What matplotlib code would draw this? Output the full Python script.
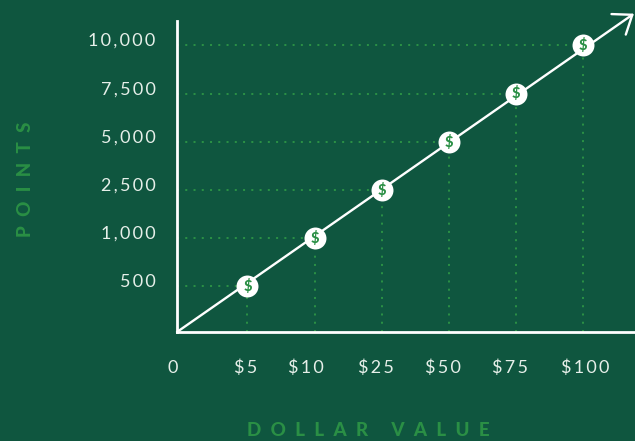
import matplotlib
matplotlib.use("Agg")
import matplotlib.pyplot as plt
from matplotlib.transforms import ScaledTranslation

plt.rcParams['font.family'] = ['Lato', 'DejaVu Sans']

dollar_labels = ['0', '$5', '$10', '$25', '$50', '$75', '$100']
point_labels = ['500', '1,000', '2,500', '5,000', '7,500', '10,000']
# the scale is even steps, not true values
x_steps = [1, 2, 3, 4, 5, 6]
y_steps = [1, 2, 3, 4, 5, 6]

bg = '#0f563f'
green = '#2a8f45'
white = '#ffffff'
label_col = '#e6efe9'


def spaced(s, gap):
    return gap.join(s)


fig = plt.figure(figsize=(6.35, 4.41), dpi=100, facecolor=bg)
ax = fig.add_axes([177 / 635, 109 / 441, 458 / 635, 311 / 441], facecolor=bg)

xmin, xmax = -0.05, 6.776
ymin, ymax = 0.056, 6.508
ax.set_xlim(xmin, xmax)
ax.set_ylim(ymin, ymax)

for s in ['top', 'right']:
    ax.spines[s].set_visible(False)
for s in ['left', 'bottom']:
    ax.spines[s].set_color(white)
    ax.spines[s].set_linewidth(2)

# dotted guides from the axes to each point
dots = (0, (1, 3.1))
for x, y in zip(x_steps, y_steps):
    ax.plot([xmin, x], [y, y], color=green, lw=1.45, ls=dots, zorder=1)
    ax.plot([x, x], [ymin, y], color=green, lw=1.45, ls=dots, zorder=1)

# main line with the arrow head
ax.annotate('', xy=(6.76, 6.66), xytext=(xmin, ymin), annotation_clip=False,
            arrowprops=dict(arrowstyle='->,head_length=1.0,head_width=0.75',
                            color=white, lw=1.7, mutation_scale=12,
                            shrinkA=0, shrinkB=0), zorder=2)

ax.scatter(x_steps, y_steps, s=250, color=white, zorder=3, linewidths=0)
for x, y in zip(x_steps, y_steps):
    ax.text(x, y - 0.005, '$', color=green, fontsize=10.5, fontweight='black',
            ha='center', va='center', zorder=4)

ax.set_xticks([0] + x_steps)
ax.set_xticklabels([spaced(t, '\u2009') for t in dollar_labels])
ax.set_yticks(y_steps)
ax.set_yticklabels([spaced(t, '\u2009') for t in point_labels])
ax.tick_params(axis='both', length=0, labelsize=13, labelcolor=label_col)
ax.tick_params(axis='x', pad=20)
ax.tick_params(axis='y', pad=15.5)

# labels sit a little off their marks
x_nudge = [-8, -2, -9, -6, -6, -6, 2]
for lab, dx in zip(ax.get_xticklabels(), x_nudge):
    lab.set_transform(lab.get_transform() + ScaledTranslation(dx / 100, 0, fig.dpi_scale_trans))
for lab in ax.get_yticklabels():
    lab.set_transform(lab.get_transform() + ScaledTranslation(0, 6 / 100, fig.dpi_scale_trans))

fig.text(368 / 635, 1 - 430 / 441, spaced('DOLLAR VALUE', '\u2002'), color=green,
         fontsize=13.5, fontweight='black', ha='center', va='center')
fig.text(26 / 635, 1 - 179 / 441, spaced('POINTS', '\u2002'), color=green,
         fontsize=13.5, fontweight='black', ha='center', va='center', rotation=90)

fig.savefig('out.png', dpi=100, facecolor=bg)
